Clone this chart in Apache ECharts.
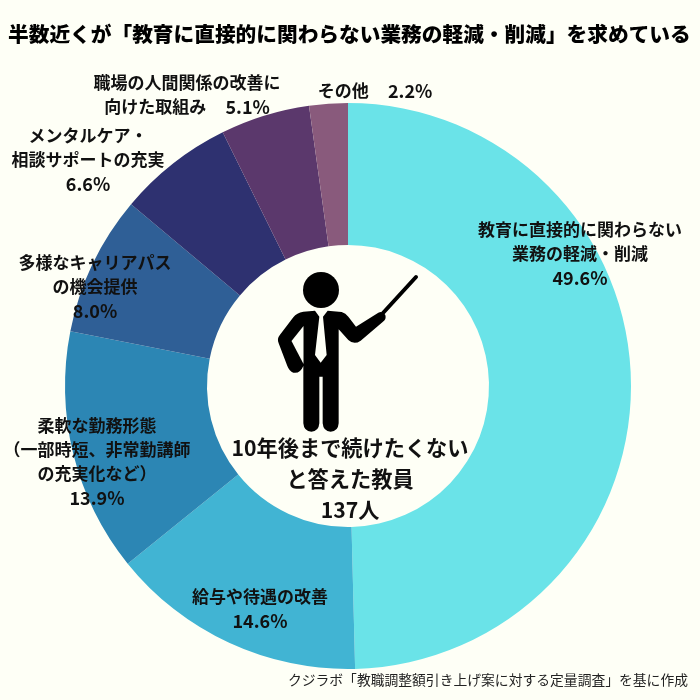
<!DOCTYPE html>
<html>
<head>
<meta charset="utf-8">
<script src="https://cdn.jsdelivr.net/npm/echarts@6/dist/echarts.min.js"></script>
<style>
html,body{margin:0;padding:0;background:#fefff6;}
#chart{width:700px;height:700px;}
</style>
</head>
<body>
<div id="chart"></div>
<script>
var categories = [
	'教育に直接的に関わらない\n業務の軽減・削減',
	'給与や待遇の改善',
	'柔軟な勤務形態\n（一部時短、非常勤講師\nの充実化など）',
	'多様なキャリアパス\nの機会提供',
	'メンタルケア・\n相談サポートの充実',
	'職場の人間関係の改善に\n向けた取組み',
	'その他'
];
var values = [49.6, 14.6, 13.9, 8.0, 6.6, 5.1, 2.2];
var valueLabels = ['49.6%', '14.6%', '13.9%', '8.0%', '6.6%', '5.1%', '2.2%'];
var colors = ['#6ae3e8', '#41b4d3', '#2c86b4', '#2f5f96', '#2e3170', '#5b386c', '#895a7c'];

// label centres, picked by eye
var labelPos = [[580, 254], [260, 609], [97, 462], [95, 287], [88, 160], [187, 95], [375, 91]];
// these two keep the value on the last text line
var inlineValue = {5: '     ', 6: '     '};

var font = '"Noto Sans CJK JP"';
var ink = '#111';
var paper = '#fefff6';

var chart = echarts.init(document.getElementById('chart'));
var pieData = [];
for (var i = 0; i < categories.length; i++) {
	var sep = inlineValue[i] ? inlineValue[i] : '\n';
	pieData.push({
		name: categories[i],
		value: values[i],
		itemStyle: {color: colors[i], borderWidth: 0},
		label: {formatter: categories[i] + sep + '{v|' + valueLabels[i] + '}'}
	});
}

// teacher icon, outline traced at 3x
var bodyPath = 'M345 152 L358 170 L345 285 L362 308 L380 285 L369 170 L383 152 L425 156 Q437 160 445 170 L468 200 L535 158 Q548 152 556 165 Q560 178 548 186 L482 242 Q462 256 445 240 L416 208 L416 490 Q414 515 392 515 Q370 515 368 490 L368 350 L358 350 L358 490 Q356 515 334 515 Q312 515 310 490 L310 318 Q300 342 280 338 Q268 334 262 318 L236 250 Q230 236 240 224 L280 172 Q290 158 310 155 Z';
echarts.graphic.registerShape('teacherBody', echarts.graphic.extendPath(bodyPath));

var option = {
	backgroundColor: paper,
	animation: false,
	title: {
		text: '半数近くが「教育に直接的に関わらない業務の軽減・削減」を求めている',
		left: 3,
		top: 19,
		textStyle: {fontFamily: font, fontSize: 20.7, fontWeight: 900, color: '#000'}
	},
	series: [{
		type: 'pie',
		center: [348, 386],
		radius: [141, 283],
		startAngle: 90,
		clockwise: true,
		silent: true,
		data: pieData,
		label: {
			show: true,
			position: 'inside',
			fontFamily: font,
			fontSize: 17,
			fontWeight: 'bold',
			lineHeight: 24,
			color: ink,
			align: 'center',
			rich: {
				v: {fontFamily: font, fontSize: 18, fontWeight: 'bold', lineHeight: 24, color: ink}
			}
		},
		labelLine: {show: false},
		labelLayout: function (params) {
			var p = labelPos[params.dataIndex];
			return {x: p[0], y: p[1], align: 'center', verticalAlign: 'middle'};
		}
	}],
	graphic: [
		{
			type: 'circle',
			shape: {cx: 321, cy: 290, r: 18},
			style: {fill: '#000'}
		},
		{
			type: 'teacherBody',
			x: 200,
			y: 260,
			scaleX: 1 / 3,
			scaleY: 1 / 3,
			style: {fill: '#000'}
		},
		{
			type: 'polygon',
			shape: {points: [[303.5, 326], [291.5, 341], [303.5, 364]]},
			style: {fill: paper}
		},
		{
			type: 'line',
			shape: {x1: 383, y1: 313, x2: 416, y2: 277},
			style: {stroke: '#000', lineWidth: 4, lineCap: 'round'}
		},
		{
			type: 'text',
			x: 350,
			y: 478.5,
			style: {
				text: '10年後まで続けたくない\nと答えた教員\n137人',
				align: 'center',
				verticalAlign: 'middle',
				font: 'bold 21.2px ' + font,
				lineHeight: 31,
				fill: ink
			}
		},
		{
			type: 'text',
			right: 12,
			top: 673,
			style: {
				text: 'クジラボ「教職調整額引き上げ案に対する定量調査」を基に作成',
				font: '400 13.8px ' + font,
				fill: '#222'
			}
		}
	]
};
chart.setOption(option);
</script>
</body>
</html>
